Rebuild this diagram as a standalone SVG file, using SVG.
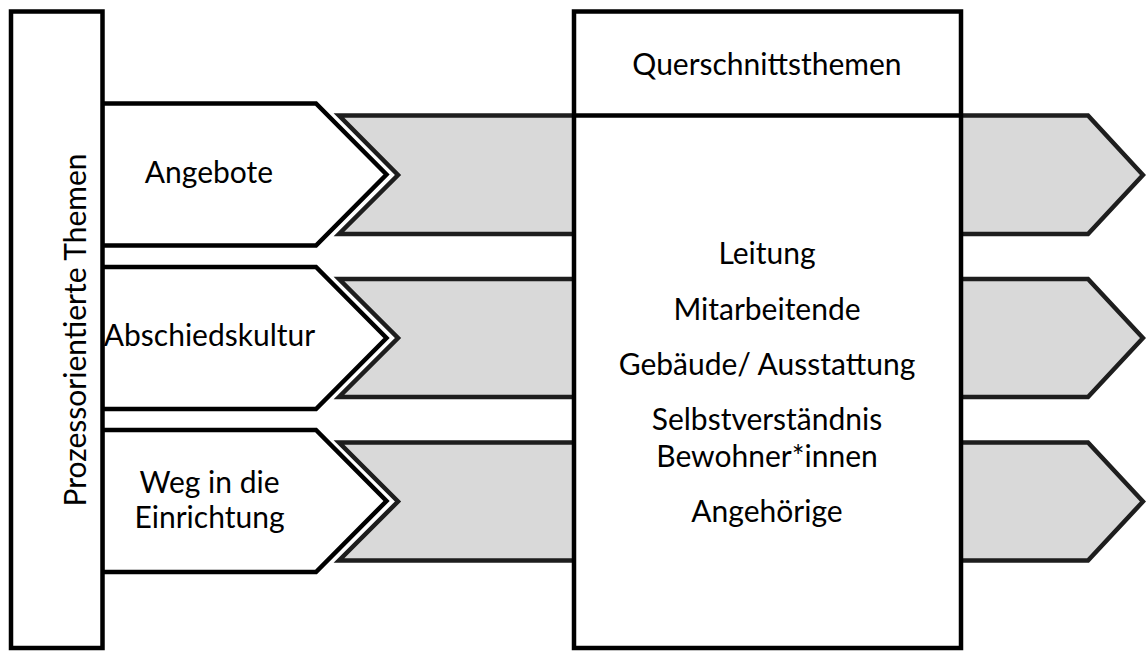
<svg xmlns="http://www.w3.org/2000/svg" width="1146" height="651" viewBox="0 0 1146 651">
<style>
.bg{fill:#ffffff}
.gray{fill:#d9d9d9;stroke:#1e1e1e;stroke-width:4.5;stroke-linejoin:miter}
.white{fill:#ffffff;stroke:#000000;stroke-width:4.5;stroke-linejoin:miter}
.box{fill:#ffffff;stroke:#000000;stroke-width:4.5}
.ln{stroke:#000000;stroke-width:4.5;fill:none}
text{font-family:Lato,"Open Sans","Liberation Sans",sans-serif;font-size:30px;fill:#000000;text-anchor:middle}
</style>
<rect class="bg" x="0" y="0" width="1146" height="651"/>
<g id="connectors">
<polygon class="gray" points="339,115.5 1088,115.5 1143,175 1088,234 339,234 398,175"/>
<polygon class="gray" points="339,279 1088,279 1143,338 1088,397 339,397 398,338"/>
<polygon class="gray" points="339,442.5 1088,442.5 1143,501.5 1088,560.5 339,560.5 398,501.5"/>
</g>
<g id="angebote">
<polygon class="white" points="102,103.5 316,103.5 386.5,174.5 316,245.5 102,245.5"/>
<text x="209" y="183">Angebote</text>
</g>
<g id="abschiedskultur">
<polygon class="white" points="102,267 316,267 386.5,338 316,409 102,409"/>
<text x="209.5" y="346">Abschiedskultur</text>
</g>
<g id="weg">
<polygon class="white" points="102,430 316,430 386.5,501 316,572 102,572"/>
<text x="209.5" y="493">Weg in die</text>
<text x="209.5" y="528">Einrichtung</text>
</g>
<g id="querschnitt">
<rect class="box" x="574" y="11.5" width="387" height="636.5"/>
<line class="ln" x1="574" y1="115.5" x2="961" y2="115.5"/>
<text x="767" y="75">Querschnittsthemen</text>
<text x="767" y="264">Leitung</text>
<text x="767" y="320">Mitarbeitende</text>
<text x="767" y="375">Gebäude/ Ausstattung</text>
<text x="767" y="430">Selbstverständnis</text>
<text x="767" y="467">Bewohner*innen</text>
<text x="767" y="522">Angehörige</text>
</g>
<g id="prozess">
<rect class="box" x="11" y="11.5" width="91.5" height="636.5"/>
<text transform="translate(86,330) rotate(-90)" x="0" y="0">Prozessorientierte Themen</text>
</g>
</svg>
